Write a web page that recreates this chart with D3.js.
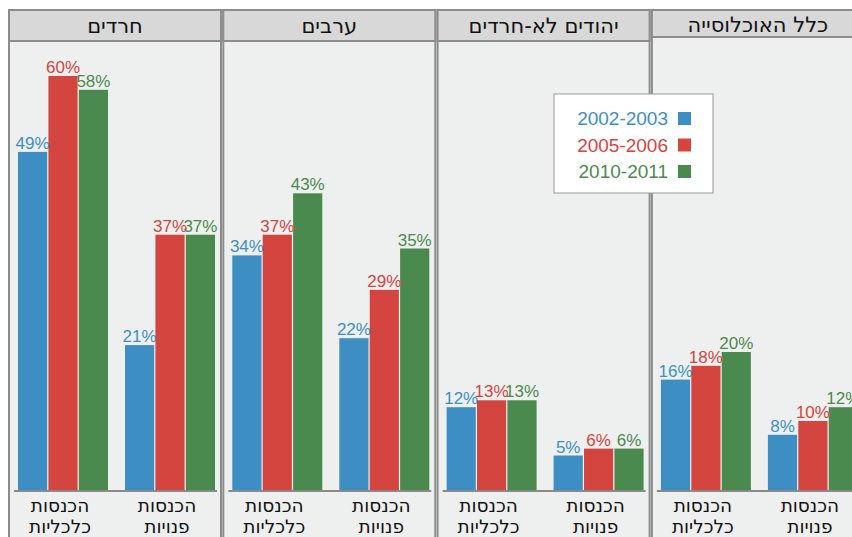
<!DOCTYPE html>
<html>
<head>
<meta charset="utf-8">
<script src="https://cdn.jsdelivr.net/npm/d3@7"></script>
<style>
  body { margin: 0; background: #fff; }
  svg { display: block; font-family: "Liberation Sans", Arial, sans-serif; }
  .heb { font-family: "DejaVu Sans", "Liberation Sans", sans-serif; }
</style>
</head>
<body>
<div id="chart"></div>
<script>
// panels, left to right as drawn
const panels = ['חרדים', 'ערבים', 'יהודים לא-חרדים', 'כלל האוכלוסייה'];
const groups = ['הכנסות כלכליות', 'הכנסות פנויות'];
const years = ['2002-2003', '2005-2006', '2010-2011'];
const colors = ['#3d8ec3', '#d5453f', '#4b8a4e'];

// values per panel: [group][year]
const haredim = [[49, 60, 58], [21, 37, 37]];
const arabs = [[34, 37, 43], [22, 29, 35]];
const nonHaredi = [[12, 13, 13], [5, 6, 6]];
const total = [[16, 18, 20], [8, 10, 12]];
const values = [haredim, arabs, nonHaredi, total];

const width = 852, height = 537;
const svg = d3.select('#chart').append('svg')
  .attr('width', width).attr('height', height);

const panelStep = 214.3, panelW = 212, panelTop = 10;
const x0 = d3.scaleBand().domain(panels).range([9, 9 + panelStep * 4]);
const xg = d3.scaleBand().domain(groups).range([9, 206]).paddingInner(0.159);
const xb = d3.scaleBand().domain(years).range([0, xg.bandwidth()]).paddingInner(0.04);
const y = d3.scaleLinear().domain([0, 60]).range([490, 76]);

const panel = svg.selectAll('g.panel')
  .data(panels)
  .join('g')
    .attr('class', 'panel')
    .attr('transform', d => `translate(${x0(d)},0)`);

panel.append('rect')
  .attr('x', 0).attr('y', panelTop)
  .attr('width', panelW).attr('height', height)
  .attr('fill', '#eef0ef')
  .attr('stroke', '#8c8c8c').attr('stroke-width', 2);

// header strip (last panel's is a bit shorter in the original)
panel.append('rect')
  .attr('x', 0).attr('y', panelTop)
  .attr('width', panelW)
  .attr('height', (d, i) => i === 3 ? 27 : 31)
  .attr('fill', '#d8d8d8')
  .attr('stroke', '#8c8c8c').attr('stroke-width', 2);

panel.append('text')
  .attr('class', 'heb')
  .attr('x', panelW / 2)
  .attr('y', (d, i) => i === 3 ? 32 : 33)
  .attr('text-anchor', 'middle')
  .attr('font-size', 21)
  .attr('fill', '#111')
  .text(d => d);

panel.each(function(p, pi) {
  const g = d3.select(this);
  const grp = g.selectAll('g.grp')
    .data(groups)
    .join('g')
      .attr('class', 'grp')
      .attr('transform', d => `translate(${xg(d)},0)`);

  grp.each(function(gname, gi) {
    const row = values[pi][gi];
    const gg = d3.select(this);
    gg.selectAll('rect')
      .data(years)
      .join('rect')
        .attr('x', d => xb(d))
        .attr('y', (d, k) => y(row[k]))
        .attr('width', xb.bandwidth())
        .attr('height', (d, k) => y(0) - y(row[k]))
        .attr('fill', (d, k) => colors[k]);

    gg.selectAll('text.val')
      .data(years)
      .join('text')
        .attr('class', 'val')
        .attr('x', d => xb(d) + xb.bandwidth() / 2)
        .attr('y', (d, k) => y(row[k]) - 3)
        .attr('text-anchor', 'middle')
        .attr('font-size', 17)
        .attr('fill', (d, k) => colors[k])
        .text((d, k) => row[k] + '%');

    const words = gname.split(' ');
    gg.selectAll('text.cat')
      .data(words)
      .join('text')
        .attr('class', 'cat heb')
        .attr('x', xg.bandwidth() / 2 - 3)
        .attr('y', (d, k) => 512 + k * 21)
        .attr('text-anchor', 'middle')
        .attr('font-size', 18.5)
        .attr('fill', '#111')
        .text(d => d);
  });

  g.append('line')
    .attr('x1', 5).attr('x2', panelW - 4)
    .attr('y1', y(0) + 1).attr('y2', y(0) + 1)
    .attr('stroke', '#8a8a8a').attr('stroke-width', 2);
});

// legend
const legend = svg.append('g').attr('transform', 'translate(554,94)');
legend.append('rect')
  .attr('width', 159).attr('height', 99)
  .attr('fill', '#fff')
  .attr('stroke', '#999').attr('stroke-width', 1);

const item = legend.selectAll('g.item')
  .data(years)
  .join('g')
    .attr('class', 'item')
    .attr('transform', (d, i) => `translate(0,${18 + i * 26.5})`);

item.append('rect')
  .attr('x', 124).attr('width', 13).attr('height', 13)
  .attr('fill', (d, i) => colors[i]);

item.append('text')
  .attr('x', 114).attr('y', 13)
  .attr('text-anchor', 'end')
  .attr('font-size', 19)
  .attr('fill', (d, i) => colors[i])
  .text(d => d);
</script>
</body>
</html>
